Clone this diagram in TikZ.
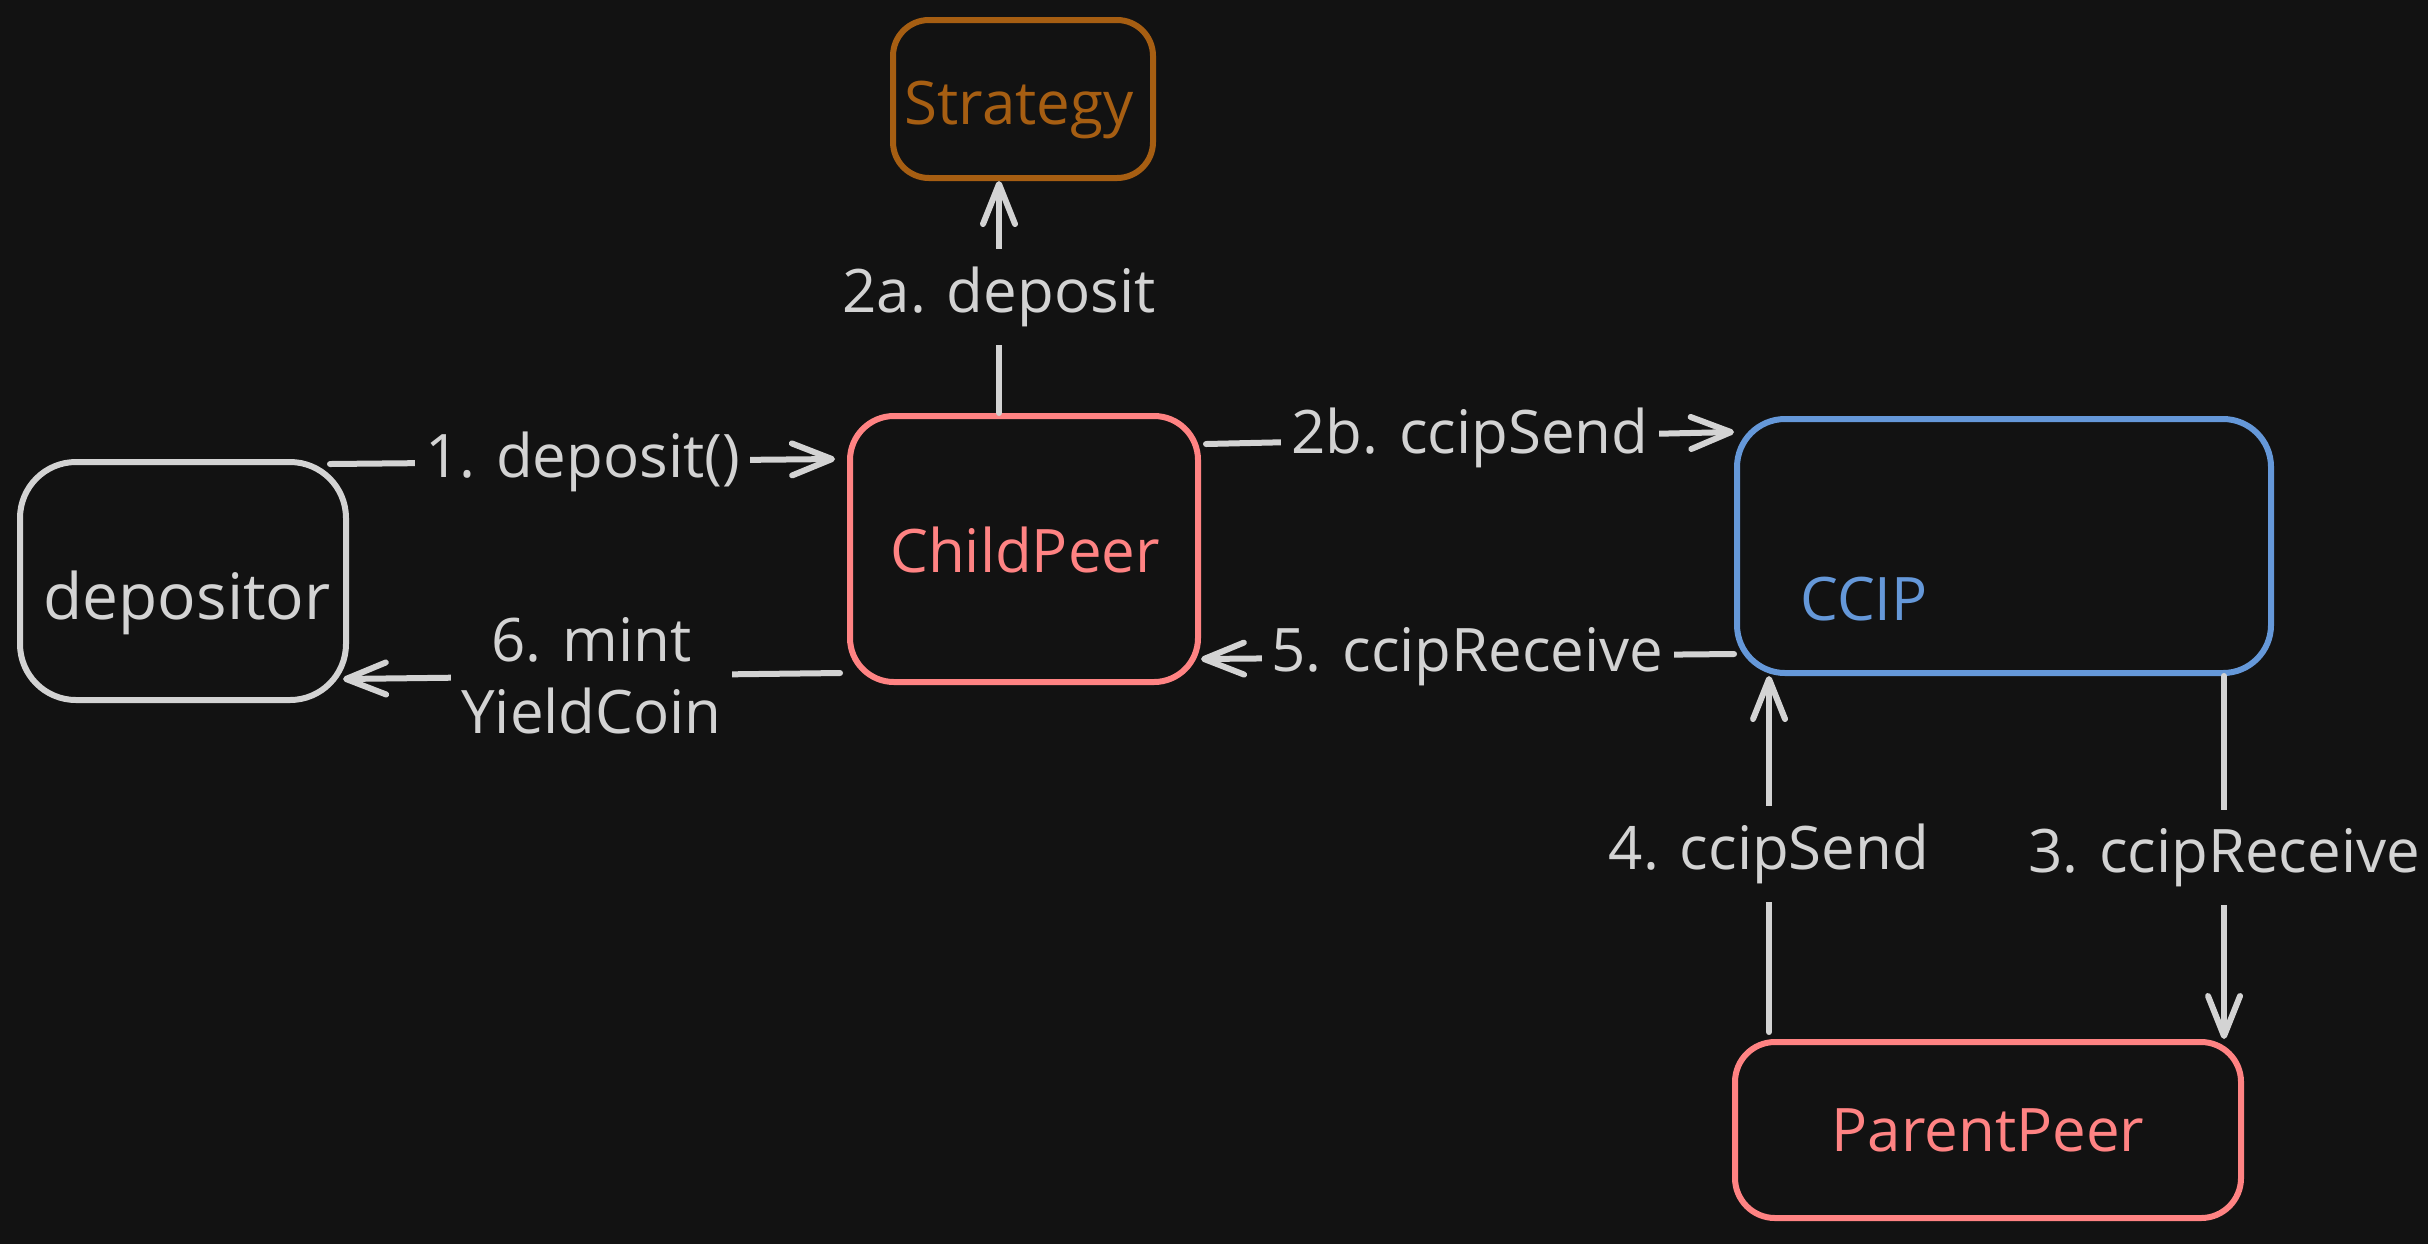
\documentclass[tikz,border=0pt]{standalone}
\usepackage{fontspec}
\setmainfont{Open Sans}
\usetikzlibrary{arrows.meta}

\definecolor{bgdark}{HTML}{121212}
\definecolor{linegray}{HTML}{D3D3D3}
\definecolor{peerred}{HTML}{FF8383}
\definecolor{stratbrown}{HTML}{A65E12}
\definecolor{ccipblue}{HTML}{6598D9}

\newcommand{\bigfont}{\fontsize{30pt}{36pt}\selectfont}

\begin{document}
\begin{tikzpicture}[x=0.5pt, y=-0.5pt,
    box/.style={draw, line width=3pt, rounded corners=20pt, fill=bgdark,
      inner sep=0pt},
    boxtext/.style={font=\bigfont, inner sep=0pt},
    flow/.style={draw=linegray, line width=3pt, line cap=round,
      -{Straight Barb[length=20pt, width=16pt, round]}},
    flowlabel/.style={fill=bgdark, text=linegray, font=\bigfont,
      inner xsep=5pt, inner ysep=9pt, align=center}]

    \fill[bgdark] (0, 0) rectangle (2428, 1244);
    \useasboundingbox (0, 0) rectangle (2428, 1244);

    \node[box, draw=linegray, minimum width=163pt, minimum height=119pt,
      rounded corners=28pt] (depositor) at (183, 581) {};
    \node[box, draw=peerred, minimum width=174pt, minimum height=133pt,
      rounded corners=22pt] (childpeer) at (1024, 549) {};
    \node[box, draw=stratbrown, minimum width=130pt, minimum height=79pt,
      rounded corners=18pt] (strategy) at (1023, 99) {};
    \node[box, draw=ccipblue, minimum width=267pt, minimum height=127pt,
      rounded corners=24pt] (ccip) at (2004, 546) {};
    \node[box, draw=peerred, minimum width=253pt, minimum height=88pt,
      rounded corners=20pt] (parentpeer) at (1988, 1130) {};

    \node[boxtext, text=linegray, font=\fontsize{32pt}{38pt}\selectfont]
      (depositortext) at (187, 603) {depositor};
    \node[boxtext, text=peerred] (childpeertext) at (1025, 550) {ChildPeer};
    \node[boxtext, text=stratbrown] (strategytext) at (1019, 110) {Strategy};
    \node[boxtext, text=ccipblue] (cciptext) at (1864, 599) {CCIP};
    \node[boxtext, text=peerred] (parentpeertext) at (1988, 1130) {ParentPeer};

    \draw[flow] ([xshift=-9.5pt, yshift=-2.5pt]depositor.north east)
      -- node[flowlabel] {1. deposit()} ([xshift=-6pt, yshift=-23pt]childpeer.north west);
    \draw[flow] ([xshift=-12.5pt]childpeer.north)
      -- node[flowlabel] {2a. deposit} ([xshift=-12pt]strategy.south);
    \draw[flow] ([xshift=2.5pt, yshift=-15.5pt]childpeer.north east)
      -- node[flowlabel] {2b. ccipSend} ([yshift=-8pt]ccip.north west);
    \draw[flow] ([xshift=-25pt]ccip.south east)
      -- node[flowlabel] {3. ccipReceive} ([xshift=-10pt]parentpeer.north east);
    \draw[flow] ([xshift=18.5pt, yshift=3.5pt]parentpeer.north west)
      -- node[flowlabel] {4. ccipSend} ([xshift=17.5pt]ccip.south west);
    \draw[flow] ([yshift=11pt]ccip.south west)
      -- node[flowlabel] {5. ccipReceive} ([yshift=13pt]childpeer.south east);
    \draw[flow] ([xshift=-3.5pt, yshift=6pt]childpeer.south west)
      -- node[flowlabel] {6. mint\\YieldCoin} ([xshift=-3pt, yshift=12pt]depositor.south east);
\end{tikzpicture}
\end{document}
